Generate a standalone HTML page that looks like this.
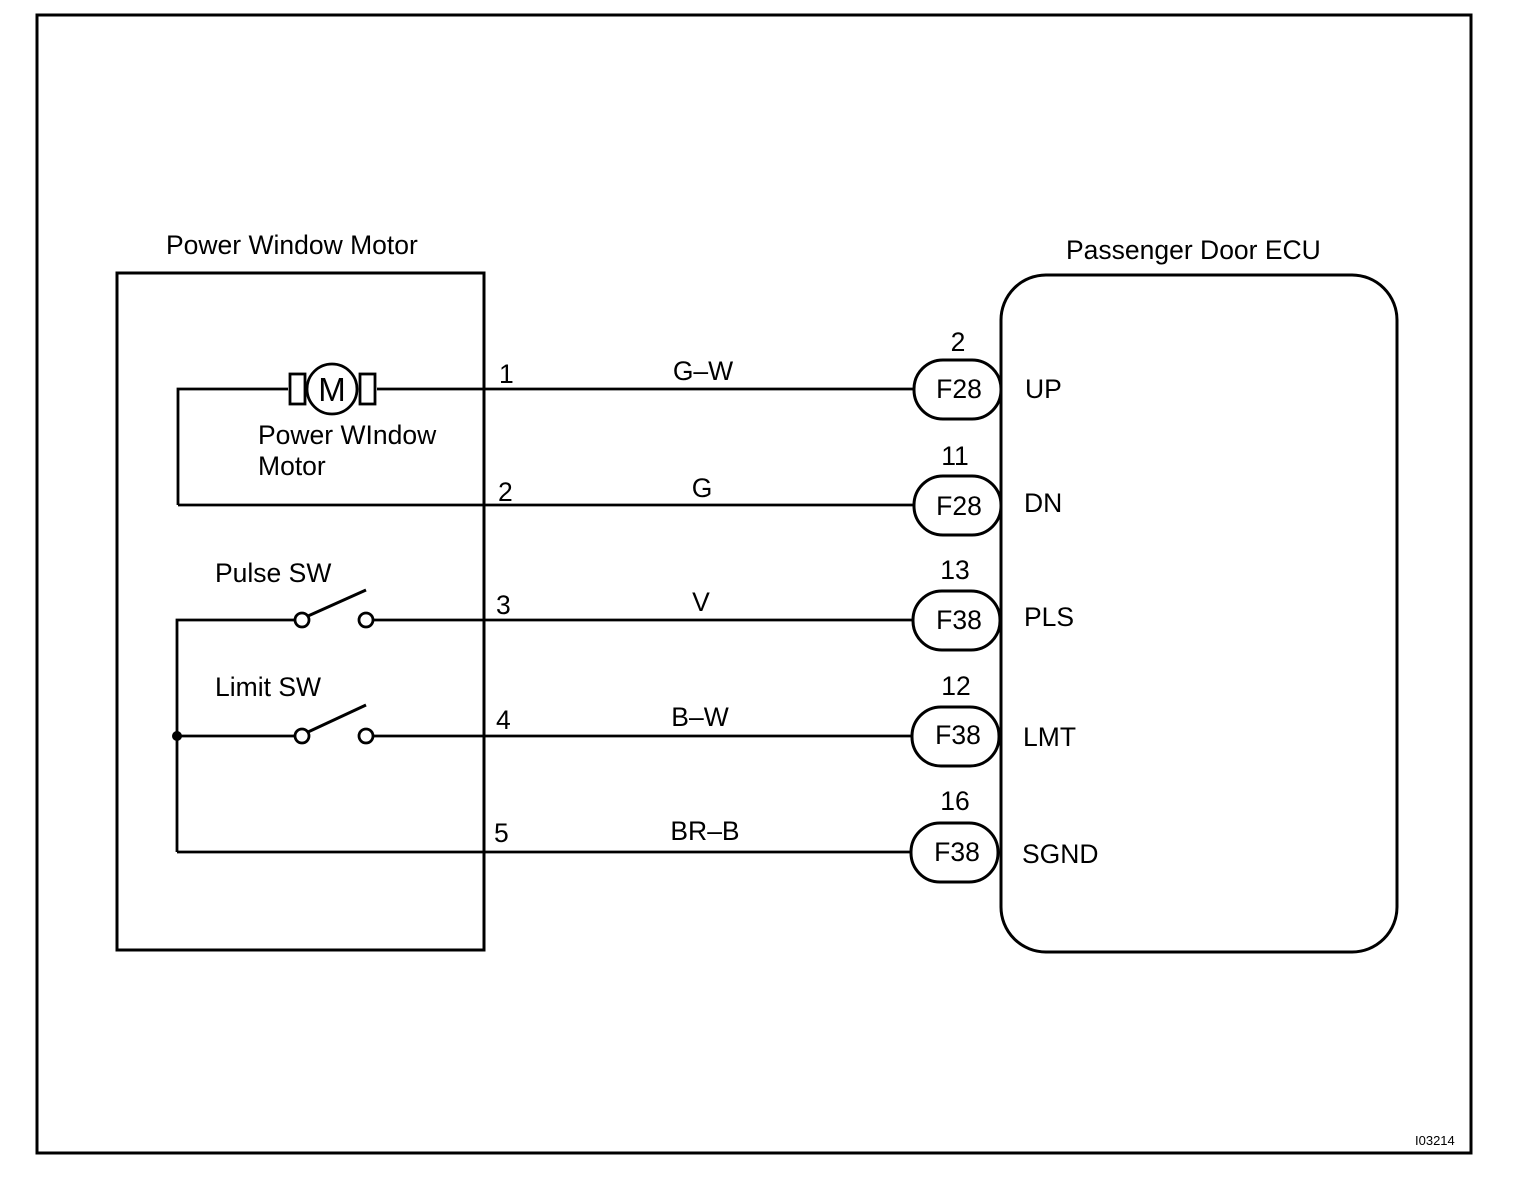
<!DOCTYPE html>
<html><head><style>html,body{margin:0;padding:0;background:#fff}svg{display:block}</style></head><body>
<svg width="1520" height="1184" viewBox="0 0 1520 1184" xmlns="http://www.w3.org/2000/svg" font-family="Liberation Sans, Arial, sans-serif" fill="none" stroke="#000">
<rect x="37" y="15" width="1434" height="1138" stroke-width="3"/>
<rect x="117" y="273" width="367" height="677" stroke-width="3"/>
<rect x="1001" y="275" width="396" height="677" rx="45" stroke-width="3"/>
<g stroke-width="2.8">
<line x1="377" y1="389" x2="913" y2="389"/>
<line x1="178" y1="505" x2="913" y2="505"/>
<line x1="373" y1="620" x2="912" y2="620"/>
<line x1="373" y1="736" x2="911" y2="736"/>
<line x1="177" y1="852" x2="911" y2="852"/>
<polyline points="288,389 178,389 178,505"/>
<rect x="290" y="374" width="15" height="30"/>
<rect x="360" y="374" width="15" height="30"/>
<circle cx="332" cy="389" r="25" fill="#fff"/>
<polyline points="295,620 177,620 177,852"/>
<line x1="177" y1="736" x2="295" y2="736"/>
<circle cx="302" cy="620" r="7" fill="#fff"/>
<circle cx="366" cy="620" r="7" fill="#fff"/>
<line x1="308" y1="616" x2="366" y2="590" stroke-width="3"/>
<circle cx="302" cy="736" r="7" fill="#fff"/>
<circle cx="366" cy="736" r="7" fill="#fff"/>
<line x1="308" y1="732" x2="366" y2="705" stroke-width="3"/>
<rect x="914" y="360" width="87" height="59" rx="29" stroke-width="3" fill="#fff"/>
<rect x="914" y="476" width="87" height="59" rx="29" stroke-width="3" fill="#fff"/>
<rect x="913" y="591" width="87" height="59" rx="29" stroke-width="3" fill="#fff"/>
<rect x="912" y="707" width="87" height="59" rx="29" stroke-width="3" fill="#fff"/>
<rect x="911" y="823" width="87" height="59" rx="29" stroke-width="3" fill="#fff"/>
</g>
<circle cx="177" cy="736" r="5" fill="#000" stroke="none"/>
<g fill="#000" stroke="none" font-size="26.5">
<text x="332" y="401" font-size="33" text-anchor="middle">M</text>
<text x="166" y="254">Power Window Motor</text>
<text x="1066" y="259">Passenger Door ECU</text>
<text x="258" y="444">Power WIndow</text>
<text x="258" y="475">Motor</text>
<text x="215" y="582">Pulse SW</text>
<text x="215" y="696">Limit SW</text>
<text x="499" y="383">1</text>
<text x="498" y="501">2</text>
<text x="496" y="614">3</text>
<text x="496" y="729">4</text>
<text x="494" y="842">5</text>
<text x="703" y="380" text-anchor="middle">G–W</text>
<text x="702" y="497" text-anchor="middle">G</text>
<text x="701" y="611" text-anchor="middle">V</text>
<text x="700" y="726" text-anchor="middle">B–W</text>
<text x="705" y="840" text-anchor="middle">BR–B</text>
<text x="958" y="351" text-anchor="middle">2</text>
<text x="955" y="465" text-anchor="middle">11</text>
<text x="955" y="579" text-anchor="middle">13</text>
<text x="956" y="695" text-anchor="middle">12</text>
<text x="955" y="810" text-anchor="middle">16</text>
<text x="959" y="398" text-anchor="middle">F28</text>
<text x="959" y="515" text-anchor="middle">F28</text>
<text x="959" y="629" text-anchor="middle">F38</text>
<text x="958" y="744" text-anchor="middle">F38</text>
<text x="957" y="861" text-anchor="middle">F38</text>
<text x="1025" y="398">UP</text>
<text x="1024" y="512">DN</text>
<text x="1024" y="626">PLS</text>
<text x="1023" y="746">LMT</text>
<text x="1022" y="863">SGND</text>
<text x="1415" y="1145" font-size="13">I03214</text>
</g>
</svg>
</body></html>
